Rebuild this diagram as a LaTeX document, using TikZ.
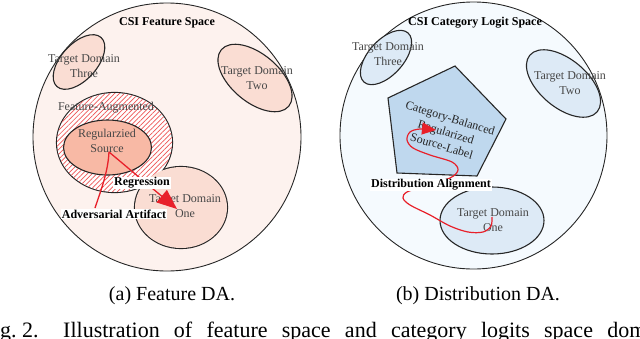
\documentclass[tikz,border=0pt]{standalone}
\usepackage{fontspec}
\setmainfont{Liberation Serif}
\usetikzlibrary{shapes.geometric,arrows.meta,patterns.meta}
\definecolor{lbg}{HTML}{FDF2EE}
\definecolor{ltd}{HTML}{FADDD3}
\definecolor{lsrcc}{HTML}{F8B9A5}
\definecolor{rbg}{HTML}{F5FAFE}
\definecolor{rtd}{HTML}{DDEAF6}
\definecolor{pent}{HTML}{BFD8EE}
\definecolor{redc}{HTML}{E8202A}
\definecolor{hatchc}{HTML}{EE5555}
\begin{document}
\begin{tikzpicture}[x=1pt,y=-1pt,
  spacec/.style={circle,draw=black!85,line width=0.9pt,minimum size=#1,inner sep=0pt},
  dom/.style={ellipse,draw=black!85,line width=1.1pt,inner sep=0pt},
  dtext/.style={align=center,text=black!72,inner sep=0pt,font=\fontsize{12}{14.5}\selectfont},
  blabel/.style={font=\bfseries\fontsize{12}{14}\selectfont,inner sep=1pt},
  redl/.style={draw=redc,line width=1.3pt},
  capt/.style={font=\fontsize{20}{23}\selectfont,inner sep=0pt},
  figcapt/.style={font=\fontsize{22}{25}\selectfont,inner sep=0pt}
]
\useasboundingbox (0,0) rectangle (640,338);
\clip (0,0) rectangle (640,338);

% ---------------- left panel ----------------
\node[spacec=268pt,fill=lbg] (lspace) at (167,137) {};
\node[blabel] (ltitle) at (167,23) {CSI Feature Space};

\node[dom,fill=ltd,minimum width=66pt,minimum height=36pt,rotate=48] (ltdthree) at (79,62) {};
\node[dtext] (ltdthreet) at (84,66) {Target Domain\\Three};

\node[dom,fill=ltd,minimum width=88pt,minimum height=48pt,rotate=-40] (ltdtwo) at (255,78) {};
\node[dtext] (ltdtwot) at (257,78) {Target Domain\\Two};

% merged outline of feature-augmented region and target domain one
\node[dom,line width=2.2pt,minimum width=115pt,minimum height=99pt] (laug) at (114.5,142.5) {};
\node[dom,line width=2.2pt,minimum width=92pt,minimum height=81pt] (ltdone) at (181,207.5) {};
\fill[white] (laug.center) ellipse [x radius=57.5, y radius=49.5];
\fill[pattern={Lines[angle=45,distance=3.4pt,line width=0.7pt]},pattern color=hatchc]
  (laug.center) ellipse [x radius=57.5, y radius=49.5];
\fill[ltd] (ltdone.center) ellipse [x radius=46, y radius=40.5];
\node[dtext] (laugt) at (106,107.5) {Feature-Augmented};

\node[dom,fill=lsrcc,minimum width=88pt,minimum height=55pt] (lsrc) at (107.5,147.5) {};
\node[dtext] (lsrct) at (107,141) {Regularzied\\Source};
\node[dtext] (ltdonet) at (185,206) {Target Domain\\One};

\coordinate (lstart) at (109,152);
\coordinate (ltip) at (177,209);
\coordinate (ladvend) at (95,208);
\draw[redl,-{Triangle[length=20pt,width=16pt]}] (lstart) -- (ltip);
\draw[redl] (lstart) .. controls (108,172) and (101,190) .. (ladvend);
\node[blabel,fill=white] (lreg) at (142,183) {Regression};
\node[blabel,fill=white] (ladv) at (114,214) {Adversarial Artifact};

% ---------------- right panel ----------------
\node[spacec=267pt,fill=rbg] (rspace) at (473.5,135.5) {};
\node[blabel] (rtitle) at (475,23) {CSI Category Logit Space};

\node[dom,fill=rtd,minimum width=66pt,minimum height=35pt,rotate=48] (rtdthree) at (386,57.5) {};
\node[dtext] (rtdthreet) at (388,54) {Target Domain\\Three};

\node[dom,fill=rtd,minimum width=88pt,minimum height=48pt,rotate=-40] (rtdtwo) at (563.5,83.5) {};
\node[dtext] (rtdtwot) at (570,83) {Target Domain\\Two};

\draw[fill=pent,draw=black!85,line width=1.1pt] (455,66) -- (506,119) -- (477,176) -- (397,173) -- (388,98) -- cycle;
\node[dtext,text=black!85,rotate=-17] (pentt) at (446,132) {Category-Balanced\\Regularized\\Source-Label};

\node[dom,fill=rtd,minimum width=104pt,minimum height=67pt] (rtdone) at (492,220.5) {};
\node[dtext] (rtdonet) at (493,220) {Target Domain\\One};

\draw[redl,line width=1.2pt,-{Triangle[length=14pt,width=12pt]}] plot[smooth,tension=0.55] coordinates {
  (492,217) (491,226) (483,232) (468,232) (450,226) (430,215) (410,205) (403,198)
  (407,192) (425,186) (450,178) (458,170) (452,162) (430,155) (413,148) (407,140)
  (410,132) (420,129) (436,130)};
\node[blabel,fill=white] (ralign) at (431,185) {Distribution Alignment};

% ---------------- captions ----------------
\node[capt] (capa) at (172,296) {(a) Feature DA.};
\node[capt] (capb) at (478,296) {(b) Distribution DA.};
\node[figcapt,anchor=base west] (figno) at (0,337) {g.\ 2.};
\node[figcapt,anchor=base west] (figtext) at (63,337) {\makebox[610pt][s]{Illustration of feature space and category logits space domain}};
\end{tikzpicture}
\end{document}
